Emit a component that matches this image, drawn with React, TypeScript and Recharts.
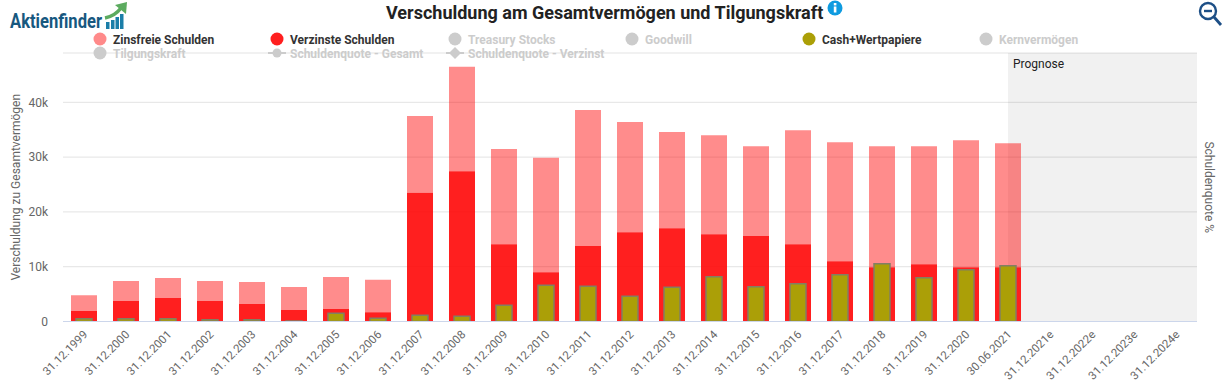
import React from 'react';
import {
  BarChart,
  Bar,
  XAxis,
  YAxis,
  CartesianGrid,
  ReferenceArea,
} from 'recharts';

const FONT = 'Roboto, sans-serif';

const DATES = [
  '31.12.1999', '31.12.2000', '31.12.2001', '31.12.2002', '31.12.2003', '31.12.2004',
  '31.12.2005', '31.12.2006', '31.12.2007', '31.12.2008', '31.12.2009', '31.12.2010',
  '31.12.2011', '31.12.2012', '31.12.2013', '31.12.2014', '31.12.2015', '31.12.2016',
  '31.12.2017', '31.12.2018', '31.12.2019', '31.12.2020', '30.06.2021',
  '31.12.2021e', '31.12.2022e', '31.12.2023e', '31.12.2024e',
];

const VERZINST = [
  1900, 3750, 4300, 3750, 3200, 2100, 2300, 1700, 23500, 27400, 14100, 9000,
  13800, 16300, 17000, 15900, 15600, 14100, 11000, 9900, 10450, 9900, 9900,
];

const ZINSFREI = [
  2900, 3650, 3650, 3650, 4000, 4200, 5800, 5900, 14000, 19100, 17400, 20900,
  24800, 20100, 17600, 18100, 16400, 20800, 21700, 22100, 21550, 23200, 22650,
];

const CASH = [
  500, 500, 500, 300, 300, 100, 1500, 600, 1150, 970, 2980, 6630,
  6450, 4620, 6260, 8150, 6330, 6870, 8520, 10520, 7970, 9430, 10160,
];

const Y_TICKS = [0, 10000, 20000, 30000, 40000];

const LEGEND_ROWS = [
  { label: 'Zinsfreie Schulden', color: '#ff8a8a', active: true, x: 100, y: 39 },
  { label: 'Verzinste Schulden', color: '#ff1f1f', active: true, x: 277, y: 39 },
  { label: 'Treasury Stocks', color: '#ccc', active: false, x: 455, y: 39 },
  { label: 'Goodwill', color: '#ccc', active: false, x: 632, y: 39 },
  { label: 'Cash+Wertpapiere', color: '#ab9f07', active: true, x: 809, y: 39 },
  { label: 'Kernvermögen', color: '#ccc', active: false, x: 986, y: 39 },
  { label: 'Tilgungskraft', color: '#ccc', active: false, x: 100, y: 53 },
  { label: 'Schuldenquote - Gesamt', color: '#ccc', active: false, x: 277, y: 53, marker: 'line' },
  { label: 'Schuldenquote - Verzinst', color: '#ccc', active: false, x: 455, y: 53, marker: 'diamond' },
];

const chartData = DATES.map((date, i) => ({
  date,
  verzinst: VERZINST[i] ?? null,
  zinsfrei: ZINSFREI[i] ?? null,
  cash: CASH[i] ?? null,
}));

function formatK(value: number) {
  return value === 0 ? '0' : `${value / 1000}k`;
}

// Highcharts-Plotband beginnt in der Mitte der Kategorie, nicht am Bandanfang
function PrognoseBand(props: any) {
  const { x, y, width, height } = props;
  const half = width / 5 / 2;
  return (
    <g>
      <rect x={x + half} y={y} width={width - half} height={height} fill="#000" fillOpacity={0.055} />
      <text x={x + half + 5} y={y + 15} fontSize={12} fontFamily={FONT} fill="#222">
        Prognose
      </text>
    </g>
  );
}

function LegendItem({ item }: { item: (typeof LEGEND_ROWS)[number] }) {
  return (
    <div
      style={{
        position: 'absolute',
        left: item.x - 10,
        top: item.y - 8,
        height: 16,
        display: 'flex',
        alignItems: 'center',
        whiteSpace: 'nowrap',
      }}
    >
      <svg width={20} height={16} style={{ marginRight: 3 }}>
        {item.marker && <line x1={1} x2={19} y1={8} y2={8} stroke={item.color} strokeWidth={2} />}
        {item.marker === 'diamond' ? (
          <path d="M10 2 L16 8 L10 14 L4 8 Z" fill={item.color} />
        ) : (
          <circle cx={10} cy={8} r={item.marker ? 4.5 : 6.5} fill={item.color} />
        )}
      </svg>
      <span
        style={{
          fontFamily: FONT,
          fontSize: 12,
          fontWeight: 700,
          position: 'relative',
          top: 0.5,
          color: item.active ? '#333' : '#ccc',
        }}
      >
        {item.label}
      </span>
    </div>
  );
}

function Logo() {
  return (
    <svg width={130} height={32} style={{ position: 'absolute', left: 0, top: 0 }}>
      <text
        x={10}
        y={28}
        fontFamily={FONT}
        fontSize={20}
        fontWeight={700}
        fill="#17587f"
        textLength={92}
        lengthAdjust="spacingAndGlyphs"
      >
        Aktienfinder
      </text>
      <rect x={106} y={22} width={3.5} height={7} fill="#1b7ea8" />
      <rect x={111} y={20} width={3.5} height={9} fill="#1b7ea8" />
      <rect x={115.5} y={17} width={3.5} height={12} fill="#1b7ea8" />
      <rect x={120} y={14} width={3.5} height={15} fill="#1b7ea8" />
      <path d="M105 18 Q115 16 121 8" fill="none" stroke="#5cab5f" strokeWidth={3.5} />
      <path d="M115 5 L127 2 L126 14 Z" fill="#5cab5f" />
    </svg>
  );
}

export default function App() {
  return (
    <div style={{ position: 'absolute', left: 0, top: 0, width: 1223, height: 391, background: '#fff', overflow: 'hidden' }}>
      <BarChart
        width={1223}
        height={391}
        data={chartData}
        margin={{ top: 53, right: 0, bottom: 9.5, left: 0 }}
        barGap={0}
      >
        <ReferenceArea
          x1="30.06.2021"
          x2="31.12.2024e"
          ifOverflow="visible"
          shape={<PrognoseBand />}
        />
        <CartesianGrid vertical={false} stroke="#e3e3e3" />
        <XAxis
          dataKey="date"
          interval={0}
          height={60}
          angle={-45}
          textAnchor="end"
          tick={{ fontSize: 11.5, fill: '#666', fontFamily: FONT, dx: -1.5 }}
          tickLine={false}
          stroke="#ccd6eb"
        />
        <XAxis xAxisId="cashAxis" dataKey="date" hide />
        <YAxis
          width={63}
          domain={[0, 49000]}
          ticks={Y_TICKS}
          tickFormatter={formatK}
          tick={{ fontSize: 12, fill: '#666', fontFamily: FONT }}
          tickLine={false}
          tickMargin={9}
          axisLine={false}
          allowDataOverflow
          label={{
            value: 'Verschuldung zu Gesamtvermögen',
            angle: -90,
            position: 'insideLeft',
            offset: 16,
            style: { fontSize: 12, fill: '#666', fontFamily: FONT, textAnchor: 'middle' },
          }}
        />
        <YAxis
          yAxisId="quote"
          orientation="right"
          width={26}
          domain={[0, 100]}
          tick={false}
          tickLine={false}
          axisLine={false}
          label={{
            value: 'Schuldenquote %',
            angle: 90,
            position: 'insideRight',
            offset: 14,
            style: { fontSize: 12, fill: '#666', fontFamily: FONT, textAnchor: 'middle' },
          }}
        />
        <Bar dataKey="verzinst" stackId="schulden" barSize={26} fill="#ff0000" fillOpacity={0.88} isAnimationActive={false} />
        <Bar dataKey="zinsfrei" stackId="schulden" barSize={26} fill="#ff0000" fillOpacity={0.45} isAnimationActive={false} />
        <Bar
          dataKey="cash"
          xAxisId="cashAxis"
          barSize={16}
          fill="#ab9f07"
          stroke="#827f63"
          strokeWidth={1.5}
          isAnimationActive={false}
        />
      </BarChart>

      <Logo />
      <div
        style={{
          position: 'absolute',
          left: 386,
          top: 2,
          fontFamily: FONT,
          fontSize: 18,
          fontWeight: 700,
          color: '#222',
          whiteSpace: 'nowrap',
        }}
      >
        Verschuldung am Gesamtvermögen und Tilgungskraft
      </div>
      <svg width={16} height={16} style={{ position: 'absolute', left: 827, top: 0 }}>
        <circle cx={8} cy={8} r={7.5} fill="#0f9be0" />
        <rect x={6.8} y={6.5} width={2.6} height={6} fill="#fff" />
        <rect x={6.8} y={3} width={2.6} height={2.4} fill="#fff" />
      </svg>
      <svg width={26} height={28} style={{ position: 'absolute', left: 1198, top: 1 }}>
        <circle cx={10} cy={10} r={8} fill="none" stroke="#1d4f86" strokeWidth={2.4} />
        <line x1={6} x2={14} y1={10} y2={10} stroke="#1d4f86" strokeWidth={2.4} />
        <line x1={16} x2={23} y1={16} y2={24} stroke="#1d4f86" strokeWidth={2.8} />
      </svg>
      {LEGEND_ROWS.map((item) => (
        <LegendItem key={item.label} item={item} />
      ))}
    </div>
  );
}
